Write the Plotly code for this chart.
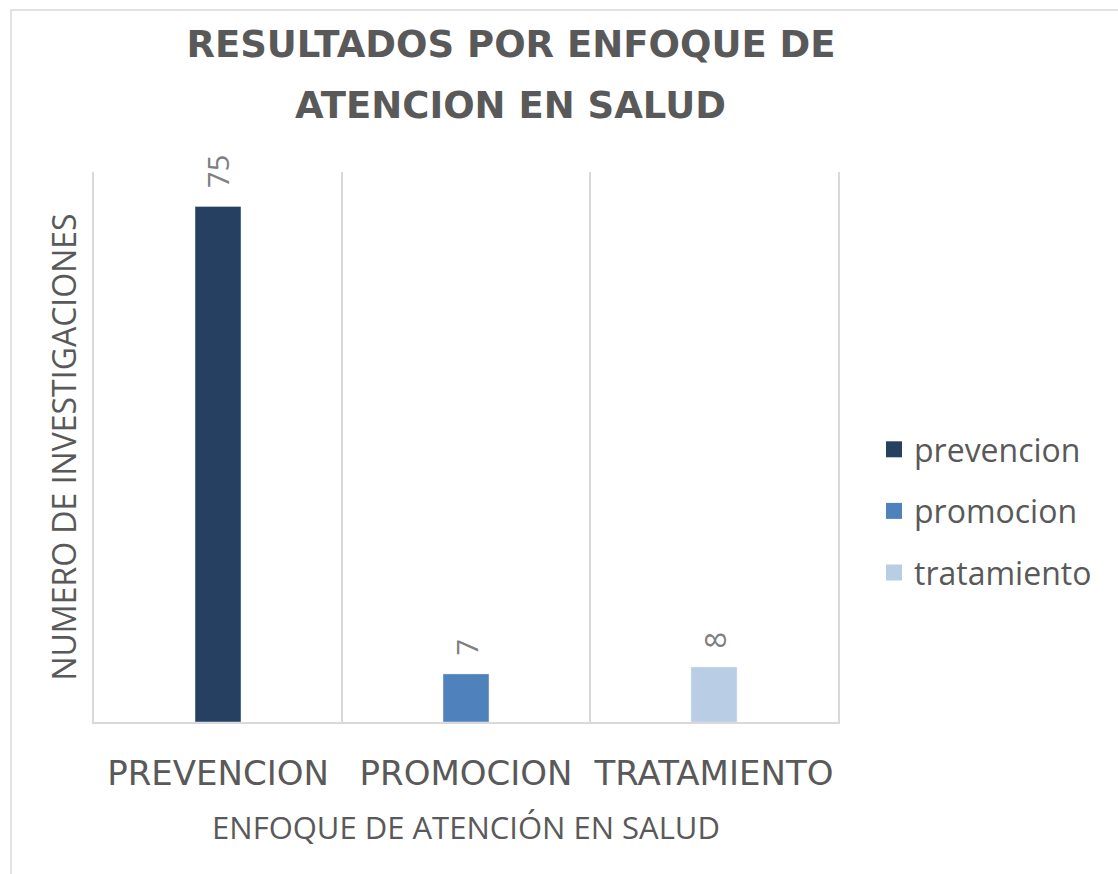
import plotly.graph_objects as go

categories = ["PREVENCION", "PROMOCION", "TRATAMIENTO"]
series_names = ["prevencion", "promocion", "tratamiento"]
values = [75, 7, 8]
colors = ["#264061", "#4F81BD", "#B9CDE5"]

title_line1 = "RESULTADOS POR ENFOQUE DE"
title_line2 = "ATENCION EN SALUD"
x_title = "ENFOQUE DE ATENCIÓN EN SALUD"
y_title = "NUMERO DE INVESTIGACIONES"

W, H = 1118, 874
L, R, T, B = 94, 280, 172, 152

fig = go.Figure()
for cat, name, val, col in zip(categories, series_names, values, colors):
    fig.add_trace(go.Bar(x=[cat], y=[val], name=name, marker_color=col,
                         width=0.1855, showlegend=False, hoverinfo="x+y"))
for i, (name, col) in enumerate(zip(series_names, colors)):
    fig.add_trace(go.Scatter(x=[None], y=[None], mode="markers", name=name,
                             legendgroup=name,
                             marker=dict(symbol="square", size=20, color=col)))

for cat, val in zip(categories, values):
    fig.add_annotation(x=cat, y=val, text=str(val), showarrow=False,
                       textangle=-90, yanchor="bottom", xanchor="center",
                       yshift=16, font=dict(family="Open Sans", size=29, color="#808080"))

title_font = dict(family="DejaVu Sans", size=37, color="#595959", weight="bold")
fig.add_annotation(text=title_line2, xref="paper", yref="paper",
                   x=(511 - L) / (W - L - R), y=(H - B - 105) / (H - T - B),
                   xanchor="center", yanchor="middle", showarrow=False,
                   font=title_font)

pw = W - L - R
ph = H - T - B
fig.add_shape(type="rect", xref="paper", yref="paper",
              x0=(11 - L) / pw, x1=(W + 20 - L) / pw,
              y0=(H - B - (H + 20)) / ph, y1=(H - B - 10) / ph,
              line=dict(color="#d9d9d9", width=1.5), fillcolor="rgba(0,0,0,0)")

fig.update_layout(
    width=W, height=H,
    margin=dict(l=L, r=R, t=T, b=B, autoexpand=False),
    paper_bgcolor="white", plot_bgcolor="white",
    barmode="overlay",
    title=dict(text=title_line1, x=511 / W, xanchor="center", xref="container",
               y=1 - 44 / H, yanchor="middle", yref="container",
               font=title_font),
    legend=dict(x=(874 - L) / pw, xanchor="left", y=(H - B - 511) / ph, yanchor="middle",
                font=dict(family="Open Sans", size=32, color="#595959"),
                traceorder="grouped", tracegroupgap=17, itemsizing="trace",
                bgcolor="rgba(0,0,0,0)"),
    xaxis=dict(type="category", tickson="boundaries", showgrid=True,
               gridcolor="#d9d9d9", gridwidth=1.5, showline=True,
               linecolor="#d9d9d9", linewidth=2, ticks="", tickangle=0,
               ticklabelstandoff=20,
               tickfont=dict(family="DejaVu Sans", size=34, color="#595959"),
               title=dict(text=x_title, standoff=26,
                          font=dict(family="Open Sans", size=31, color="#595959")),
               automargin=False, fixedrange=True),
    yaxis=dict(range=[0, 80], showgrid=False, showticklabels=False, zeroline=False,
               showline=True, mirror=True, linecolor="#d9d9d9", linewidth=1.5,
               ticks="",
               title=dict(text=y_title, standoff=6,
                          font=dict(family="Open Sans", size=32, color="#595959")),
               automargin=False, fixedrange=True),
)

fig.write_html("out.html", config={"displayModeBar": False},
               post_script="document.body.style.margin='0';document.body.style.overflow='hidden';")
